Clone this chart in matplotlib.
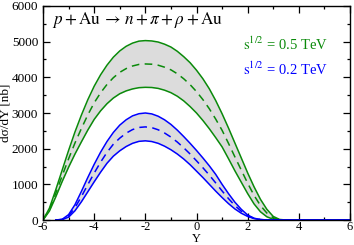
import matplotlib
matplotlib.use("Agg")
import matplotlib.pyplot as plt
from matplotlib.ticker import MultipleLocator
import numpy as np

plt.rcParams['font.family'] = ['Liberation Serif', 'DejaVu Serif']
plt.rcParams['mathtext.fontset'] = 'stix'
plt.rcParams['axes.unicode_minus'] = False

# 0.5 TeV (green): Y grid from -6 to 3.5 in steps of 0.25, then zero tail
y_g = list(np.arange(-6, 3.51, 0.25)) + [4, 5, 6]
g_upper = [0, 330, 850, 1400, 1950, 2470, 2940, 3370, 3750, 4070, 4340, 4565, 4740, 4870,
           4960, 5015, 5030, 5020, 4990, 4930, 4850, 4730, 4580, 4410, 4200, 3960, 3680,
           3350, 2980, 2580, 2160, 1740, 1320, 930, 580, 300, 100, 15, 0, 0, 0, 0]
g_mid = [0, 290, 750, 1240, 1715, 2160, 2565, 2945, 3285, 3565, 3800, 3990, 4140, 4245,
         4318, 4362, 4375, 4368, 4340, 4285, 4210, 4100, 3960, 3795, 3600, 3375, 3120,
         2830, 2515, 2150, 1770, 1400, 1030, 690, 405, 195, 60, 8, 0, 0, 0, 0]
g_lower = [0, 250, 650, 1080, 1480, 1850, 2190, 2520, 2820, 3060, 3260, 3420, 3540, 3620,
           3675, 3710, 3720, 3715, 3690, 3640, 3570, 3470, 3340, 3180, 3000, 2790, 2560,
           2310, 2050, 1720, 1380, 1060, 740, 450, 230, 90, 20, 0, 0, 0, 0, 0]

# 0.2 TeV (blue): Y grid from -5.5 to 3 in steps of 0.25, then zero tail
y_b = list(np.arange(-5.5, 3.01, 0.25)) + [4, 5, 6]
b_upper = [0, 20, 150, 430, 800, 1190, 1560, 1900, 2200, 2455, 2660, 2810, 2920, 2980,
           3000, 2975, 2910, 2810, 2680, 2520, 2340, 2150, 1950, 1740, 1520, 1280, 1000,
           740, 500, 300, 140, 50, 12, 3, 0, 0, 0, 0]
b_mid = [0, 15, 115, 345, 655, 990, 1315, 1620, 1895, 2125, 2295, 2435, 2535, 2595,
         2610, 2590, 2530, 2440, 2325, 2185, 2025, 1850, 1660, 1465, 1260, 1040, 815,
         600, 405, 245, 120, 45, 11, 3, 0, 0, 0, 0]
b_lower = [0, 10, 80, 260, 510, 790, 1070, 1340, 1590, 1790, 1940, 2060, 2150, 2205,
           2220, 2200, 2150, 2070, 1970, 1850, 1710, 1550, 1370, 1190, 1000, 810, 630,
           460, 310, 190, 100, 40, 10, 2, 0, 0, 0, 0]

title = r'$p + \mathrm{Au}\,\rightarrow\,n + \pi + \rho + \mathrm{Au}$'
lab_g = r'$\mathrm{s}^{1/2}$ = 0.5 TeV'
lab_b = r'$\mathrm{s}^{1/2}$ = 0.2 TeV'

green = '#0a8a0a'
blue = '#0000ff'
fill = '#dcdcdc'

fig = plt.figure(figsize=(3.54, 2.45), dpi=100)
ax = fig.add_axes([43/354, 1-220/245, 307/354, 214/245])

ax.fill_between(y_g, g_lower, g_upper, color=fill, lw=0)
ax.fill_between(y_b, b_lower, b_upper, color=fill, lw=0)
lw = 1.1
ax.plot(y_g, g_upper, color=green, lw=lw)
ax.plot(y_g, g_lower, color=green, lw=lw)
ax.plot(y_g, g_mid, color=green, lw=lw, dashes=(5, 3.5))
ax.plot(y_b, b_upper, color=blue, lw=lw)
ax.plot(y_b, b_lower, color=blue, lw=lw)
ax.plot(y_b, b_mid, color=blue, lw=lw, dashes=(5, 3.5))

ax.set_xlim(-6, 6)
ax.set_ylim(0, 6000)
ax.xaxis.set_major_locator(MultipleLocator(2))
ax.xaxis.set_minor_locator(MultipleLocator(1))
ax.yaxis.set_major_locator(MultipleLocator(1000))
ax.yaxis.set_minor_locator(MultipleLocator(500))
ax.tick_params(which='both', direction='in', top=True, right=True, width=0.9)
ax.tick_params(axis='x', pad=1, labelsize=9)
ax.tick_params(axis='y', pad=3.5, labelsize=9.5)
ax.tick_params(which='major', length=5)
ax.tick_params(which='minor', length=2.5)
for s in ax.spines.values():
    s.set_linewidth(1.0)

ax.set_xlabel('Y', fontsize=9, labelpad=0)
ax.set_ylabel('dσ/dY [nb]', fontsize=9.5, labelpad=0)

ax.text(0.029, 0.935, title, transform=ax.transAxes, fontsize=12.3, va='center', ha='left')
ax.text(0.65, 0.82, lab_g, transform=ax.transAxes, fontsize=10.5, color=green, va='center', ha='left')
ax.text(0.65, 0.705, lab_b, transform=ax.transAxes, fontsize=10.5, color=blue, va='center', ha='left')

fig.savefig('out.png', dpi=100)
